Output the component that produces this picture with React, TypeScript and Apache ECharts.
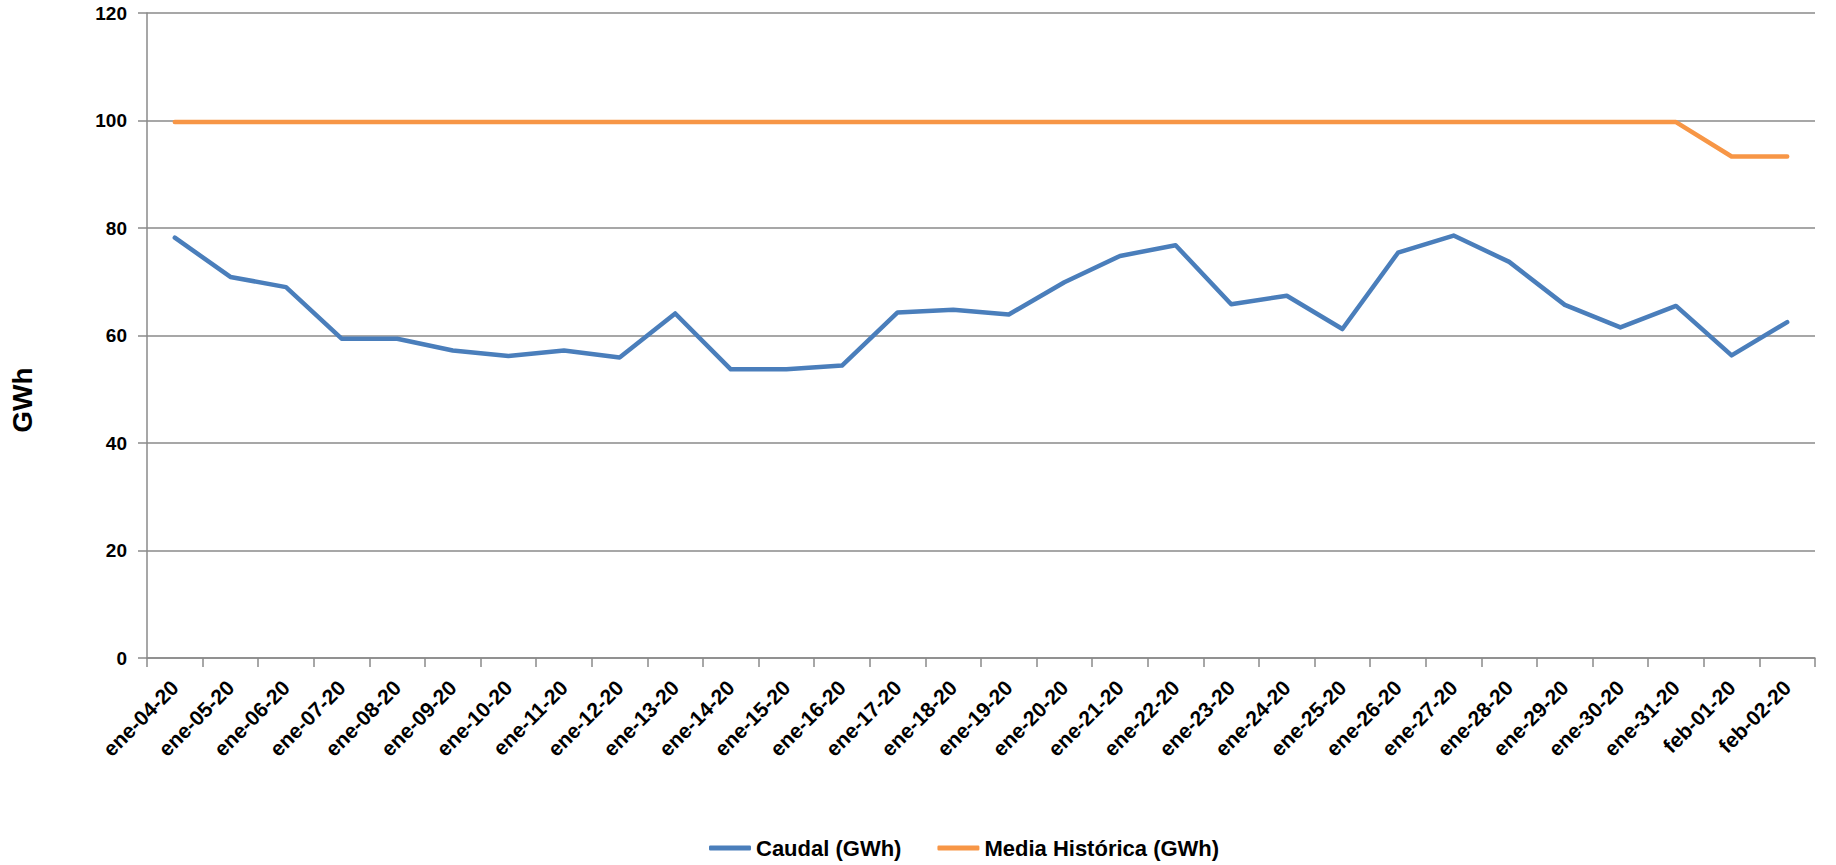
import React, { useEffect, useRef } from "react";
import * as echarts from "echarts";

const categories: string[] = [
  "ene-04-20", "ene-05-20", "ene-06-20", "ene-07-20", "ene-08-20", "ene-09-20",
  "ene-10-20", "ene-11-20", "ene-12-20", "ene-13-20", "ene-14-20", "ene-15-20",
  "ene-16-20", "ene-17-20", "ene-18-20", "ene-19-20", "ene-20-20", "ene-21-20",
  "ene-22-20", "ene-23-20", "ene-24-20", "ene-25-20", "ene-26-20", "ene-27-20",
  "ene-28-20", "ene-29-20", "ene-30-20", "ene-31-20", "feb-01-20", "feb-02-20",
];

const caudal: number[] = [
  78.2, 70.9, 69.0, 59.4, 59.4, 57.2, 56.2, 57.2, 55.9, 64.1,
  53.7, 53.7, 54.4, 64.3, 64.8, 63.9, 69.9, 74.8, 76.8, 65.8,
  67.4, 61.2, 75.4, 78.6, 73.7, 65.7, 61.5, 65.5, 56.3, 62.5,
];

const mediaHistorica: number[] = [
  99.7, 99.7, 99.7, 99.7, 99.7, 99.7, 99.7, 99.7, 99.7, 99.7,
  99.7, 99.7, 99.7, 99.7, 99.7, 99.7, 99.7, 99.7, 99.7, 99.7,
  99.7, 99.7, 99.7, 99.7, 99.7, 99.7, 99.7, 99.7, 93.3, 93.3,
];

const seriesNames: string[] = ["Caudal (GWh)", "Media Histórica (GWh)"];
const yTicks = { min: 0, max: 120, interval: 20 };
const yAxisTitle = "GWh";

const FONT = "'Liberation Sans', Arial, sans-serif";
const GRAY = "#8a8a8a";

export default function App() {
  const ref = useRef<HTMLDivElement>(null);

  useEffect(() => {
    if (!ref.current) return;
    const chart = echarts.init(ref.current, undefined, { renderer: "svg" });
    chart.setOption({
      animation: false,
      backgroundColor: "#ffffff",
      grid: { left: 147, right: 21, top: 13, bottom: 207, containLabel: false },
      legend: {
        left: 704,
        top: 832,
        itemGap: 36,
        itemWidth: 42,
        itemHeight: 5,
        icon: "roundRect",
        textStyle: { fontFamily: FONT, fontWeight: "bold", fontSize: 22, color: "#000" },
        data: seriesNames,
      },
      graphic: [
        {
          type: "text",
          x: 22,
          y: 400,
          rotation: Math.PI / 2,
          style: {
            text: yAxisTitle,
            x: 0,
            y: 0,
            align: "center",
            verticalAlign: "middle",
            fontFamily: FONT,
            fontWeight: "bold",
            fontSize: 28,
            fill: "#000",
          },
        },
      ],
      xAxis: {
        type: "category",
        data: categories,
        boundaryGap: true,
        axisLine: { show: true, lineStyle: { color: GRAY, width: 1.5 } },
        axisTick: { show: true, length: 9, alignWithLabel: false, lineStyle: { color: GRAY, width: 1.5 } },
        axisLabel: {
          interval: 0,
          rotate: 45,
          margin: 26,
          fontFamily: FONT,
          fontWeight: "bold",
          fontSize: 21,
          color: "#000",
        },
        splitLine: { show: false },
      },
      yAxis: {
        type: "value",
        min: yTicks.min,
        max: yTicks.max,
        interval: yTicks.interval,
        axisLine: { show: true, lineStyle: { color: GRAY, width: 1.5 } },
        axisTick: { show: true, length: 9, lineStyle: { color: GRAY, width: 1.5 } },
        axisLabel: {
          margin: 20,
          fontFamily: FONT,
          fontWeight: "bold",
          fontSize: 19,
          color: "#000",
        },
        splitLine: { show: true, lineStyle: { color: GRAY, width: 1.5 } },
      },
      series: [
        {
          name: seriesNames[0],
          type: "line",
          data: caudal,
          symbol: "none",
          showSymbol: false,
          itemStyle: { color: "#4A7EBB" },
          lineStyle: { color: "#4A7EBB", width: 4.5, cap: "round", join: "round" },
        },
        {
          name: seriesNames[1],
          type: "line",
          data: mediaHistorica,
          symbol: "none",
          showSymbol: false,
          itemStyle: { color: "#F79646" },
          lineStyle: { color: "#F79646", width: 4.5, cap: "round", join: "round" },
        },
      ],
    });
    return () => chart.dispose();
  }, []);

  return (
    <div
      ref={ref}
      style={{ position: "absolute", left: 0, top: 0, width: 1836, height: 865, background: "#fff" }}
    />
  );
}
